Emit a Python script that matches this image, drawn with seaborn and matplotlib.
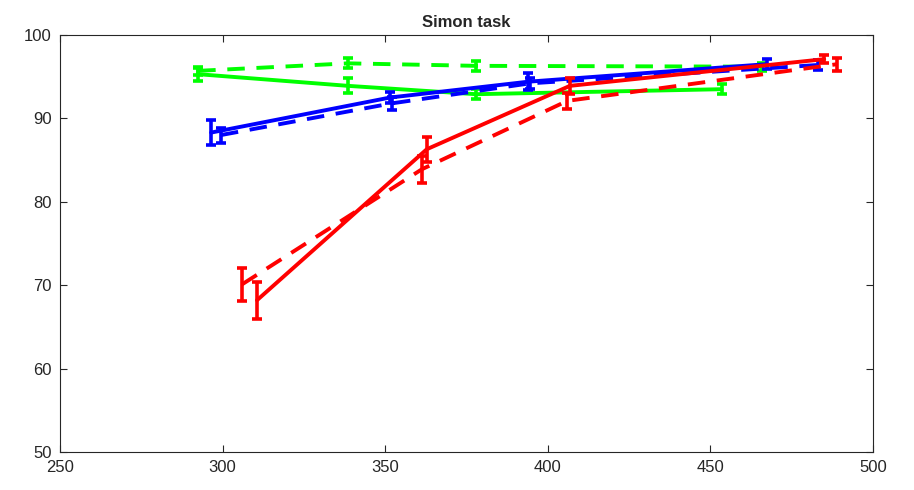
import numpy as np
import pandas as pd
import seaborn as sns
import matplotlib
matplotlib.use("Agg")
import matplotlib.pyplot as plt

# values (x = reaction time, y = accuracy %)
green_solid_x = [292.5, 338.6, 378.0, 453.5]
green_solid_y = [95.3, 93.9, 92.9, 93.5]
green_solid_err = [0.8, 0.9, 0.6, 0.6]

green_dash_x = [292.5, 338.6, 378.0, 466.0]
green_dash_y = [95.7, 96.6, 96.3, 96.2]
green_dash_err = [0.5, 0.6, 0.6, 0.5]

blue_solid_x = [296.5, 351.5, 394.0, 467.3]
blue_solid_y = [88.3, 92.5, 94.4, 96.5]
blue_solid_err = [1.5, 0.7, 1.0, 0.6]

blue_dash_x = [299.5, 352.0, 394.5, 483.0]
blue_dash_y = [88.0, 91.8, 94.2, 96.4]
blue_dash_err = [0.9, 0.8, 0.7, 0.6]

red_solid_x = [310.6, 362.8, 406.8, 485.0]
red_solid_y = [68.2, 86.3, 93.9, 97.1]
red_solid_err = [2.2, 1.5, 1.0, 0.5]

red_dash_x = [306.0, 361.3, 406.0, 489.0]
red_dash_y = [70.1, 83.9, 92.1, 96.5]
red_dash_err = [2.0, 1.6, 1.0, 0.8]

x_ticks = [250, 300, 350, 400, 450, 500]
y_ticks = [50, 60, 70, 80, 90, 100]

sns.set_style("ticks")
plt.rcParams['font.family'] = ['Liberation Sans', 'DejaVu Sans']

series = [
    ("green", "solid", green_solid_x, green_solid_y, green_solid_err),
    ("green", "dash", green_dash_x, green_dash_y, green_dash_err),
    ("blue", "solid", blue_solid_x, blue_solid_y, blue_solid_err),
    ("blue", "dash", blue_dash_x, blue_dash_y, blue_dash_err),
    ("red", "solid", red_solid_x, red_solid_y, red_solid_err),
    ("red", "dash", red_dash_x, red_dash_y, red_dash_err),
]
colors = {"green": "#00ff00", "blue": "#0000ff", "red": "#ff0000"}

fig = plt.figure(figsize=(9.14, 4.9), dpi=100)
ax = fig.add_axes([0.0656, 0.0776, 0.8895, 0.851])

lw = 2.8
for col, style, xs, ys, errs in series:
    df = pd.DataFrame({"x": xs, "y": ys})
    sns.lineplot(data=df, x="x", y="y", ax=ax, color=colors[col], linewidth=lw,
                 sort=False, estimator=None, legend=False)
    if style == "dash":
        ax.lines[-1].set_dashes((4.5, 3))
    ax.errorbar(xs, ys, yerr=errs, fmt="none", ecolor=colors[col],
                elinewidth=2.6, capsize=3.5, capthick=2.6)

ax.set_xlim(250, 500)
ax.set_ylim(50, 100)
ax.set_xticks(x_ticks)
ax.set_yticks(y_ticks)
ax.set_xlabel("")
ax.set_ylabel("")
ax.tick_params(direction="in", top=True, right=True, length=5, width=0.8,
               labelsize=12, colors="#262626", pad=6)
for s in ax.spines.values():
    s.set_color("#262626")
    s.set_linewidth(0.8)
ax.set_title("Simon task", fontsize=12, fontweight="bold", pad=6)

fig.savefig("out.png", dpi=100)
